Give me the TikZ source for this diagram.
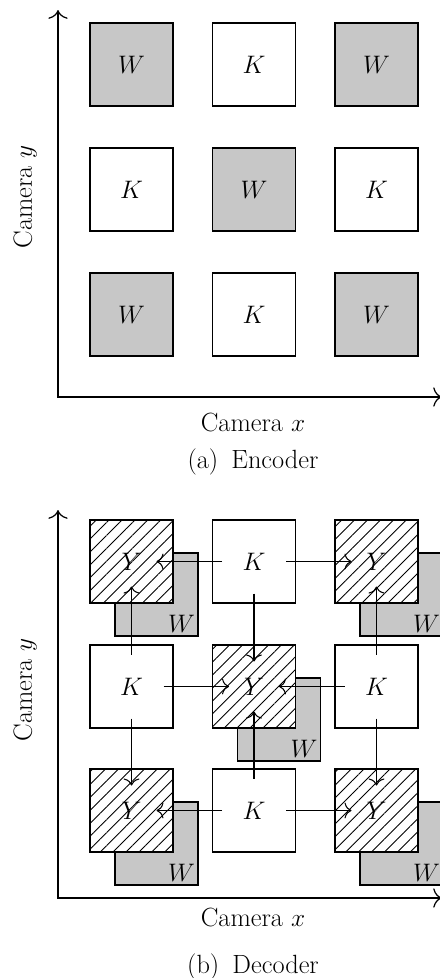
\documentclass[tikz,border=0pt]{standalone}
\usetikzlibrary{arrows.meta,patterns.meta}
\definecolor{grisW}{gray}{0.78}

\begin{document}
\begin{tikzpicture}[font=\fontsize{15}{18}\selectfont, >={To[length=4pt,width=9pt]},
  bloque/.style={draw, line width=0.8pt, minimum size=1.66cm, inner sep=0pt},
  bloqueK/.style={bloque, fill=white},
  bloqueW/.style={bloque, fill=grisW},
  bloqueY/.style={bloque, preaction={fill=white},
    pattern={Lines[angle=45,distance=5.2pt,line width=0.5pt]}},
  etiqW/.style={anchor=south east, inner sep=2pt},
  flecha/.style={->, line width=0.6pt, shorten <=0.64cm, shorten >=0.5cm},
  eje/.style={line width=0.7pt, {To[length=5pt,width=11pt]}-{To[length=5pt,width=11pt]}}]
  \useasboundingbox (0,0) rectangle (8.8,-19.56);

  % Codificador
  \node[bloqueW] (e11) at (2.63,-1.29) {$W$};
  \node[bloqueK] (e12) at (5.08,-1.29) {$K$};
  \node[bloqueW] (e13) at (7.53,-1.29) {$W$};
  \node[bloqueK] (e21) at (2.63,-3.79) {$K$};
  \node[bloqueW] (e22) at (5.08,-3.79) {$W$};
  \node[bloqueK] (e23) at (7.53,-3.79) {$K$};
  \node[bloqueW] (e31) at (2.63,-6.29) {$W$};
  \node[bloqueK] (e32) at (5.08,-6.29) {$K$};
  \node[bloqueW] (e33) at (7.53,-6.29) {$W$};

  % Ejes del codificador
  \coordinate (ea) at (1.16,-0.2);
  \coordinate (eo) at (1.16,-7.94);
  \coordinate (eb) at (8.84,-7.94);
  \draw[eje] (ea) -- (eo) -- (eb);
  \node (ex) at (5.06,-8.44) {Camera $x$};
  \node[rotate=90] (ey) at (0.5,-3.94) {Camera $y$};
  \node (ecap) at (5.06,-9.24) {(a)\enspace Encoder};

  % Decodificador: bloques W detras
  \node[bloqueW] (w11) at (3.13,-11.89) {};
  \node[bloqueW] (w13) at (8.03,-11.89) {};
  \node[bloqueW] (w22) at (5.58,-14.39) {};
  \node[bloqueW] (w31) at (3.13,-16.87) {};
  \node[bloqueW] (w33) at (8.03,-16.87) {};
  \node[etiqW] (lw11) at (w11.south east) {$W$};
  \node[etiqW] (lw13) at (w13.south east) {$W$};
  \node[etiqW] (lw22) at (w22.south east) {$W$};
  \node[etiqW] (lw31) at (w31.south east) {$W$};
  \node[etiqW] (lw33) at (w33.south east) {$W$};

  % Decodificador: bloques Y y K
  \node[bloqueY] (y11) at (2.63,-11.23) {$Y$};
  \node[bloqueK] (k12) at (5.08,-11.23) {$K$};
  \node[bloqueY] (y13) at (7.53,-11.23) {$Y$};
  \node[bloqueK] (k21) at (2.63,-13.73) {$K$};
  \node[bloqueY] (y22) at (5.08,-13.73) {$Y$};
  \node[bloqueK] (k23) at (7.53,-13.73) {$K$};
  \node[bloqueY] (y31) at (2.63,-16.21) {$Y$};
  \node[bloqueK] (k32) at (5.08,-16.21) {$K$};
  \node[bloqueY] (y33) at (7.53,-16.21) {$Y$};

  % Prediccion K -> Y
  \draw[flecha] (k12.center) -- (y11.center);
  \draw[flecha] (k12.center) -- (y13.center);
  \draw[flecha] (k12.center) -- (y22.center);
  \draw[flecha] (k21.center) -- (y11.center);
  \draw[flecha] (k21.center) -- (y22.center);
  \draw[flecha] (k21.center) -- (y31.center);
  \draw[flecha] (k23.center) -- (y13.center);
  \draw[flecha] (k23.center) -- (y22.center);
  \draw[flecha] (k23.center) -- (y33.center);
  \draw[flecha] (k32.center) -- (y31.center);
  \draw[flecha] (k32.center) -- (y33.center);
  \draw[flecha] (k32.center) -- (y22.center);

  % Ejes del decodificador
  \coordinate (da) at (1.16,-10.2);
  \coordinate (do) at (1.16,-17.96);
  \coordinate (db) at (8.84,-17.96);
  \draw[eje] (da) -- (do) -- (db);
  \node (dx) at (5.06,-18.34) {Camera $x$};
  \node[rotate=90] (dy) at (0.5,-13.8) {Camera $y$};
  \node (dcap) at (5.06,-19.34) {(b)\enspace Decoder};
\end{tikzpicture}
\end{document}
